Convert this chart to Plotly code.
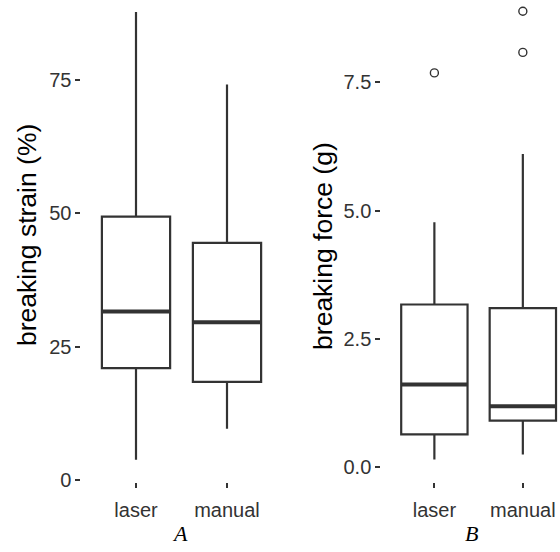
import plotly.graph_objects as go

# ---- data ----
categories = ["laser", "manual"]

# Panel A: breaking strain (%)
strain_lower = [3.8, 9.6]
strain_q1 = [21.0, 18.4]
strain_median = [31.6, 29.6]
strain_q3 = [49.4, 44.5]
strain_upper = [87.8, 74.2]
strain_outliers = [[], []]

# Panel B: breaking force (g)
force_lower = [0.15, 0.25]
force_q1 = [0.64, 0.91]
force_median = [1.61, 1.19]
force_q3 = [3.17, 3.10]
force_upper = [4.77, 6.10]
force_outliers = [[7.68], [8.08, 8.88]]

strain_ticks = [0, 25, 50, 75]
strain_ticktext = ["0", "25", "50", "75"]
force_ticks = [0, 2.5, 5.0, 7.5]
force_ticktext = ["0.0", "2.5", "5.0", "7.5"]

LINE = "#333333"
BOXW = 0.75
positions = [1, 2]

fig = go.Figure()


def add_panel(fig, xa, ya, lower, q1, med, q3, upper, outliers):
    for i, pos in enumerate(positions):
        fig.add_trace(go.Box(
            x=[pos], q1=[q1[i]], median=[med[i]], q3=[q3[i]],
            lowerfence=[lower[i]], upperfence=[upper[i]],
            width=BOXW, whiskerwidth=0, boxpoints=False,
            fillcolor="white", line=dict(color=LINE, width=2.2),
            xaxis=xa, yaxis=ya, showlegend=False, hoverinfo="skip"))
        fig.add_trace(go.Scatter(
            x=[pos - BOXW / 2, pos + BOXW / 2], y=[med[i], med[i]],
            mode="lines", line=dict(color=LINE, width=4),
            xaxis=xa, yaxis=ya, showlegend=False, hoverinfo="skip"))
        if outliers[i]:
            fig.add_trace(go.Scatter(
                x=[pos] * len(outliers[i]), y=outliers[i], mode="markers",
                marker=dict(symbol="circle-open", size=8, color=LINE,
                            line=dict(width=1.4, color=LINE)),
                xaxis=xa, yaxis=ya, showlegend=False, hoverinfo="skip"))


add_panel(fig, "x", "y", strain_lower, strain_q1, strain_median, strain_q3,
          strain_upper, strain_outliers)
add_panel(fig, "x2", "y2", force_lower, force_q1, force_median, force_q3,
          force_upper, force_outliers)

tickfont = dict(family="Liberation Sans, Arial, sans-serif", size=20, color="#333333")
common_x = dict(showgrid=False, zeroline=False, showline=False, ticks="outside",
                ticklen=5, tickwidth=1.8, tickcolor=LINE, tickfont=tickfont,
                tickvals=positions, ticktext=categories, fixedrange=True,
                ticklabelstandoff=5)
common_y = dict(showgrid=False, zeroline=False, showline=False, ticks="outside",
                ticklen=5, tickwidth=1.8, tickcolor=LINE, tickfont=tickfont,
                fixedrange=True, domain=[62 / 552, 1])

fig.update_layout(
    width=560, height=552,
    margin=dict(l=0, r=0, t=0, b=0),
    paper_bgcolor="white", plot_bgcolor="white",
    xaxis=dict(common_x, domain=[81.4 / 560, 281.6 / 560], range=[0.4, 2.6], anchor="y"),
    yaxis=dict(common_y, range=[-0.37, 90.04], tickvals=strain_ticks,
               ticktext=strain_ticktext, anchor="x"),
    xaxis2=dict(common_x, domain=[381.3 / 560, 1], range=[0.4, 2.42], anchor="y2"),
    yaxis2=dict(common_y, range=[-0.287, 9.10], tickvals=force_ticks,
                ticktext=force_ticktext, anchor="x2"),
)

titlefont = dict(family="Liberation Sans, Arial, sans-serif", size=26.5, color="black")
labfont = dict(family="Liberation Serif, Times New Roman, serif", size=22, color="black")
fig.add_annotation(text="breaking strain (%)", textangle=-90, x=27 / 560, y=1 - 239 / 552,
                   xref="paper", yref="paper", showarrow=False, font=titlefont,
                   xanchor="center", yanchor="middle")
fig.add_annotation(text="breaking force (g)", textangle=-90, x=323 / 560, y=1 - 250 / 552,
                   xref="paper", yref="paper", showarrow=False, font=titlefont,
                   xanchor="center", yanchor="middle")
fig.add_annotation(text="<i>A</i>", x=180 / 560, y=1 - 542.5 / 552, xref="paper", yref="paper",
                   showarrow=False, font=labfont, xanchor="center", yanchor="middle")
fig.add_annotation(text="<i>B</i>", x=471.5 / 560, y=1 - 542.5 / 552, xref="paper", yref="paper",
                   showarrow=False, font=labfont, xanchor="center", yanchor="middle")

fig.write_html("out.html")
